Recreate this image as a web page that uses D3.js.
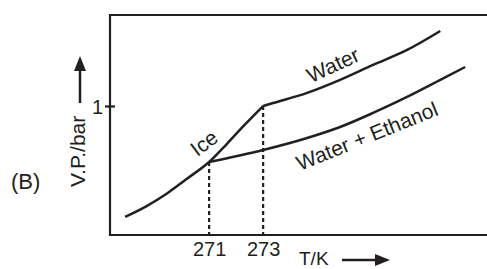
<!DOCTYPE html>
<html>
<head>
<meta charset="utf-8">
<script src="https://cdn.jsdelivr.net/npm/d3@7"></script>
<style>
  html, body { margin: 0; padding: 0; background: #fff; }
  svg { display: block; }
  text { font-family: "Liberation Sans", Arial, sans-serif; fill: #231f20; }
</style>
</head>
<body>
<svg id="chart" width="487" height="269"></svg>
<script>
// ---- data (T in K, vapour pressure in bar) ----
const iceT   = [267.89, 268.67, 269.44, 270.22, 271.0, 271.67, 272.33, 273.0];
const iceP   = [0.140, 0.222, 0.322, 0.442, 0.566, 0.709, 0.857, 1.000];
const waterT = [273.0, 273.37, 274.63, 275.85, 277.07, 278.33, 279.56];
const waterP = [1.000, 1.023, 1.101, 1.202, 1.318, 1.434, 1.581];
const ethT   = [271.0, 273.0, 274.63, 275.85, 277.07, 278.33, 279.56, 280.48];
const ethP   = [0.566, 0.659, 0.752, 0.837, 0.946, 1.070, 1.202, 1.302];
const xTicks = [271, 273];
const yTicks = [1];
const labels = ["Ice", "Water", "Water + Ethanol"];

const ink = "#231f20";
const svg = d3.select("#chart");
const x = d3.scaleLinear().domain([267.33, 281.4]).range([110, 490]);
const y = d3.scaleLinear().domain([0, 1.705]).range([235, 15]);

const zip = (a, b) => a.map((v, i) => [v, b[i]]);
const line = d3.line().x(d => x(d[0])).y(d => y(d[1])).curve(d3.curveMonotoneX);

// frame (top, left, bottom)
svg.append("path")
  .attr("d", `M${x.range()[1]},${y(y.domain()[1])}H${x(x.domain()[0])}V${y(0)}H${x.range()[1]}`)
  .attr("fill", "none").attr("stroke", ink).attr("stroke-width", 2.2);

// dashed drops
const pts = [[271, 0.566], [273, 1.0]];
svg.selectAll("line.drop").data(pts).enter().append("line")
  .attr("class", "drop")
  .attr("x1", d => x(d[0])).attr("x2", d => x(d[0]))
  .attr("y1", d => y(d[1])).attr("y2", y(0))
  .attr("stroke", ink).attr("stroke-width", 2.2).attr("stroke-dasharray", "4,3");

// curves
[zip(iceT, iceP), zip(waterT, waterP), zip(ethT, ethP)].forEach(d => {
  svg.append("path").attr("d", line(d))
    .attr("fill", "none").attr("stroke", ink).attr("stroke-width", 2.5)
    .attr("stroke-linejoin", "round");
});

// y axis tick
const ya = svg.append("g").attr("transform", `translate(${x(x.domain()[0])},0)`)
  .call(d3.axisLeft(y).tickValues(yTicks).tickSize(5).tickPadding(2).tickFormat(d3.format("d")));
ya.select(".domain").remove();
ya.selectAll(".tick line").attr("x1", 5).attr("x2", -5).attr("stroke", ink).attr("stroke-width", 2.2);
ya.selectAll(".tick text").attr("font-size", 20).attr("font-family", "Liberation Sans, Arial, sans-serif")
  .attr("fill", ink).attr("x", -7).attr("dy", "0.36em");

// x axis labels
const xa = svg.append("g").attr("transform", `translate(0,${y(0)})`)
  .call(d3.axisBottom(x).tickValues(xTicks).tickSize(0).tickPadding(6).tickFormat(d3.format("d")));
xa.select(".domain").remove();
xa.selectAll(".tick text").attr("font-size", 20).attr("font-family", "Liberation Sans, Arial, sans-serif")
  .attr("fill", ink).attr("dy", "0.71em").attr("y", 7);

// axis titles with arrows
svg.append("text").attr("x", 299).attr("y", 265).attr("font-size", 19).text("T/K");
svg.append("line").attr("x1", 342).attr("x2", 377).attr("y1", 260).attr("y2", 260)
  .attr("stroke", ink).attr("stroke-width", 2.5);
svg.append("path").attr("d", "M390,260L375,254L375,266Z").attr("fill", ink);

svg.append("text").attr("transform", "translate(85,187) rotate(-90)").attr("font-size", 21).text("V.P./bar");
svg.append("line").attr("x1", 80).attr("x2", 80).attr("y1", 103).attr("y2", 68)
  .attr("stroke", ink).attr("stroke-width", 2.5);
svg.append("path").attr("d", "M80,56L74,71L86,71Z").attr("fill", ink);

svg.append("text").attr("x", 11).attr("y", 189).attr("font-size", 22).text("(B)");

// curve labels
const lab = [
  {t: labels[0], cx: 204, cy: 143, a: -37},
  {t: labels[1], cx: 333, cy: 65, a: -25},
  {t: labels[2], cx: 367, cy: 136, a: -22}
];
lab.forEach(l => {
  svg.append("text").attr("transform", `translate(${l.cx},${l.cy}) rotate(${l.a})`)
    .attr("text-anchor", "middle").attr("dy", "0.35em").attr("font-size", 21).text(l.t);
});
</script>
</body>
</html>
